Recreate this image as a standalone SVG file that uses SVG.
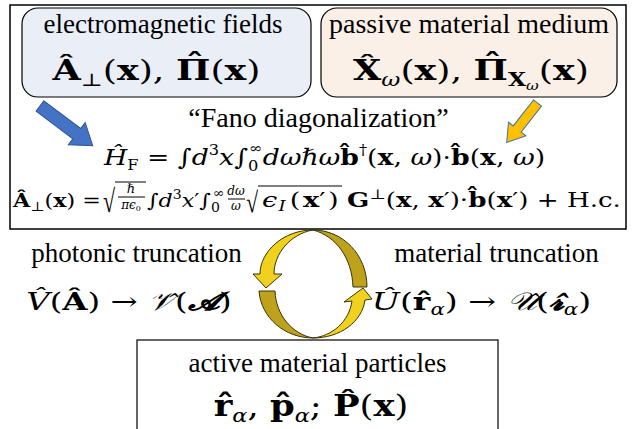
<svg xmlns="http://www.w3.org/2000/svg" width="635" height="429" viewBox="0 0 635 429">
<style>
.b{font-weight:bold}
.i{font-style:italic}
.frame{fill:#fff;stroke:#000;stroke-width:1.5}
.rb{stroke:#000;stroke-width:1.2}
.vin{stroke:#000;stroke-width:1}
.front{fill:#F0D21E;stroke:#3A3308;stroke-width:1}
.back{fill:#BFA21C;stroke:#3A3308;stroke-width:1}
</style>
<rect width="635" height="429" fill="#fff"/>
<g fill="#000">
<g id="fano-frame">
<rect class="frame" x="10" y="5" width="616" height="224"/>
<text font-family="Liberation Serif" x="318.5" y="127" font-size="28" text-anchor="middle">“Fano diagonalization”</text>
<text font-family="DejaVu Serif" text-anchor="middle" transform="translate(324.5,165) scale(1.16,1)" font-size="23"><tspan class="i">Ĥ</tspan><tspan font-size="14" dy="5">F</tspan><tspan dy="-5"> = ∫</tspan><tspan class="i">d</tspan><tspan font-size="14" dy="-10">3</tspan><tspan class="i" dy="10">x</tspan><tspan>∫</tspan><tspan font-size="14" dy="6">0</tspan><tspan font-size="14" dx="-8" dy="-18">∞</tspan><tspan class="i" dy="12">dωℏω</tspan><tspan class="b">b̂</tspan><tspan font-size="14" dy="-10">†</tspan><tspan dy="10">(</tspan><tspan class="b">x</tspan><tspan>, </tspan><tspan class="i">ω</tspan><tspan>)·</tspan><tspan class="b">b̂</tspan><tspan>(</tspan><tspan class="b">x</tspan><tspan>, </tspan><tspan class="i">ω</tspan><tspan>)</tspan></text>
<text font-family="DejaVu Serif" transform="translate(13,207) scale(1.17,1)" font-size="19"><tspan class="b">Â</tspan><tspan font-size="13" dy="4">⊥</tspan><tspan dy="-4">(</tspan><tspan class="b">x</tspan><tspan>) =</tspan></text>
<text font-family="Liberation Serif" transform="translate(103,212) scale(1,1.45)" font-size="22">√</text>
<line class="vin" x1="115" y1="182" x2="146" y2="182"/>
<text font-family="DejaVu Serif" class="i" x="131" y="193" font-size="13" text-anchor="middle">ℏ</text>
<line class="vin" x1="118" y1="197" x2="145" y2="197"/>
<text font-family="DejaVu Serif" x="131" y="209" font-size="12" text-anchor="middle"><tspan class="i">πϵ</tspan><tspan font-size="8" dy="2">0</tspan></text>
<text font-family="DejaVu Serif" transform="translate(147,207) scale(1.17,1)" font-size="19"><tspan>∫</tspan><tspan class="i">d</tspan><tspan font-size="12" dy="-8">3</tspan><tspan class="i" dy="8">x</tspan><tspan>′∫</tspan><tspan font-size="12" dy="5">0</tspan><tspan font-size="12" dx="-6" dy="-15">∞</tspan></text>
<text font-family="DejaVu Serif" class="i" x="236" y="195" font-size="12" text-anchor="middle">dω</text>
<line class="vin" x1="228" y1="199" x2="245" y2="199"/>
<text font-family="DejaVu Serif" class="i" x="236" y="210" font-size="12" text-anchor="middle">ω</text>
<text font-family="Liberation Serif" transform="translate(246,212) scale(1,1.3)" font-size="22">√</text>
<line class="vin" x1="258" y1="186" x2="342" y2="186"/>
<text font-family="DejaVu Serif" transform="translate(262,207) scale(1.3,1)" font-size="21"><tspan class="i">ϵ</tspan><tspan class="i" font-size="14" dx="1" dy="4">I</tspan><tspan dx="3" dy="-4">(</tspan><tspan class="b" dx="2">x</tspan><tspan>′</tspan><tspan dx="2">)</tspan></text>
<text font-family="DejaVu Serif" transform="translate(347,207) scale(1.245,1)" font-size="21"><tspan class="b">G</tspan><tspan font-size="14" dy="-8">⊥</tspan><tspan dy="8">(</tspan><tspan class="b">x</tspan><tspan>, </tspan><tspan class="b">x</tspan><tspan>′)·</tspan><tspan class="b">b̂</tspan><tspan>(</tspan><tspan class="b">x</tspan><tspan>′) + H.c.</tspan></text>
</g>
<g id="em-fields">
<rect class="rb" x="22" y="8" width="289" height="89" rx="16" fill="#E9EEF7"/>
<text font-family="Liberation Serif" x="163" y="33" font-size="27" text-anchor="middle">electromagnetic fields</text>
<text font-family="DejaVu Serif" text-anchor="middle" transform="translate(156.5,80) scale(1.3,1)" font-size="28"><tspan class="b">Â</tspan><tspan font-size="18" dy="6">⊥</tspan><tspan dy="-6">(</tspan><tspan class="b">x</tspan><tspan>), </tspan><tspan class="b">Π</tspan><tspan class="b" dx="-19" dy="-7">ˆ</tspan><tspan dx="5" dy="7">(</tspan><tspan class="b">x</tspan><tspan>)</tspan></text>
</g>
<g id="passive-medium">
<rect class="rb" x="321" y="8" width="296" height="89" rx="16" fill="#FBF0E7"/>
<text font-family="Liberation Serif" x="469" y="33" font-size="28" text-anchor="middle">passive material medium</text>
<text font-family="DejaVu Serif" text-anchor="middle" transform="translate(471,80) scale(1.3,1)" font-size="28"><tspan class="b">X̂</tspan><tspan class="i" font-size="18" dy="6">ω</tspan><tspan dy="-6">(</tspan><tspan class="b">x</tspan><tspan>), </tspan><tspan class="b">Π</tspan><tspan class="b" dx="-19" dy="-7">ˆ</tspan><tspan class="b" font-size="18" dx="5" dy="13">X</tspan><tspan class="i" font-size="12" dy="4">ω</tspan><tspan dy="-10">(</tspan><tspan class="b">x</tspan><tspan>)</tspan></text>
</g>
<g id="active-particles">
<rect class="rb" x="137" y="340" width="361" height="100" fill="#fff"/>
<text font-family="Liberation Serif" x="317.5" y="372" font-size="27" text-anchor="middle">active material particles</text>
<text font-family="DejaVu Serif" text-anchor="middle" transform="translate(311,416) scale(1.18,1)" font-size="30"><tspan class="b">r̂</tspan><tspan class="i" font-size="19" dy="6">α</tspan><tspan dy="-6">, </tspan><tspan class="b">p̂</tspan><tspan class="i" font-size="19" dy="6">α</tspan><tspan dy="-6">; </tspan><tspan class="b">P̂</tspan><tspan>(</tspan><tspan class="b">x</tspan><tspan>)</tspan></text>
</g>
<g id="truncations">
<text font-family="Liberation Serif" x="136.5" y="262" font-size="27" text-anchor="middle">photonic truncation</text>
<text font-family="Liberation Serif" x="496.5" y="262" font-size="27" text-anchor="middle">material truncation</text>
<text font-family="DejaVu Serif" text-anchor="middle" transform="translate(129,310) scale(1.3,1)" font-size="25"><tspan class="i">V̂</tspan><tspan>(</tspan><tspan class="b">Â</tspan><tspan>) → </tspan><tspan class="i">𝒱̂</tspan><tspan>(</tspan><tspan class="b i">𝓐</tspan><tspan>)</tspan></text>
<text font-family="DejaVu Serif" text-anchor="middle" transform="translate(481.5,310) scale(1.33,1)" font-size="25"><tspan class="i">Û</tspan><tspan>(</tspan><tspan class="b">r̂</tspan><tspan class="i" font-size="16" dy="5">α</tspan><tspan dy="-5">) → </tspan><tspan class="i">𝒰̂</tspan><tspan>(</tspan><tspan class="b i">𝓻̂</tspan><tspan class="i" font-size="16" dy="5">α</tspan><tspan dy="-5">)</tspan></text>
</g>
</g>
<g id="connectors">
<polygon transform="translate(40,106) rotate(37)" points="0,-6.5 46,-6.5 46,-14 66,0 46,14 46,6.5 0,6.5" fill="#4472C4" stroke="#2F5597" stroke-width="1"/>
<polygon transform="translate(537.5,103) rotate(128)" points="0,-5 33,-5 33,-11 50,0 33,11 33,5 0,5" fill="#FFC000" stroke="#41719C" stroke-width="1"/>
<path class="back" d="M259,291 L275,291 C276,315 292,334 313,338 C285,338 261,318 259,291 Z"/>
<path class="back" d="M313,230 C343,230 367,255 367,287 L353,287 C352,258 336,236 313,230 Z"/>
<path class="front" d="M313,230 C283,230 260,252 260,274 L253,274 L266,288 L282,274 L274,274 C274,254 290,234 313,230 Z"/>
<path class="front" d="M313,338 C340,338 362,322 365,300 L372,299 L363,288 L344,302 L352,301 C349,322 332,336 313,338 Z"/>
</g>
</svg>
